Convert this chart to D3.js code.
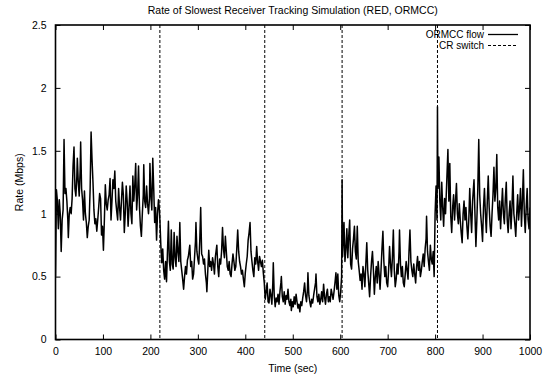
<!DOCTYPE html>
<html><head><meta charset="utf-8">
<script src="https://cdn.jsdelivr.net/npm/d3@7"></script>
<style>
body{margin:0;background:#fff;}
text{font-family:"Liberation Sans",Arial,Helvetica,sans-serif;fill:#000;}
</style></head>
<body><svg id="c" width="545" height="377"></svg>
<script>
const titleText = "Rate of Slowest Receiver Tracking Simulation (RED, ORMCC)";
const xLabel = "Time (sec)";
const yLabel = "Rate (Mbps)";
const xTicks = [0,100,200,300,400,500,600,700,800,900,1000];
const yTicks = [0,0.5,1,1.5,2,2.5];
const yTickLabels = ["0","0.5","1","1.5","2","2.5"];
const legendNames = ["ORMCC flow","CR switch"];
const switchTimes = [220,441,604,805];

const seg1 = [[0,0.50],[2,1.19],[4,1.10],[6,0.88],[8,1.11],[10,1.00],[12,0.70],[14,0.95],[16,1.03],[18,1.59],[20,1.16],[22,1.20],[24,1.10],[26,0.95],[27,0.81],[29,1.00],[31,1.05],[33,1.00],[35,1.12],[37,1.38],[39,1.53],[41,1.20],[43,1.14],[45,1.30],[46,1.44],[48,1.25],[50,1.14],[52,1.35],[53,1.57],[55,1.20],[57,1.11],[59,0.95],[61,1.18],[63,1.00],[65,0.93],[67,0.81],[69,0.90],[71,0.95],[73,1.20],[75,1.65],[77,1.43],[79,1.25],[81,1.03],[83,0.92],[85,0.96],[87,0.86],[89,0.95],[91,1.05],[93,1.16],[95,1.12],[97,0.83],[99,0.90],[101,0.71],[103,0.95],[105,1.23],[107,1.08],[109,1.03],[111,1.11],[113,1.15],[115,1.28],[117,0.95],[119,1.10],[121,1.27],[123,1.20],[125,1.34],[127,1.10],[129,1.02],[131,0.95],[133,1.20],[135,1.05],[137,0.95],[139,1.10],[141,1.25],[143,1.15],[145,0.85],[147,1.00],[149,1.22],[151,1.10],[153,0.90],[155,1.05],[157,1.22],[159,1.00],[161,0.92],[163,1.30],[165,1.10],[167,1.22],[169,1.40],[171,1.03],[173,1.15],[175,1.38],[177,1.05],[179,0.90],[181,0.82],[183,1.00],[185,1.15],[186,1.39],[188,1.10],[190,1.05],[192,1.22],[194,1.08],[196,1.00],[198,1.12],[199,1.40],[201,1.15],[203,1.03],[205,1.44],[207,1.20],[209,0.93],[211,1.05],[213,0.79],[215,1.00],[217,1.11],[219,1.03],[220,0.95]];
const seg2 = [[222,0.75],[224,0.61],[226,0.72],[228,0.55],[230,0.48],[232,0.62],[234,0.46],[236,0.70],[238,0.94],[240,0.62],[242,0.55],[244,0.87],[246,0.60],[248,0.56],[250,0.85],[252,0.65],[254,0.58],[256,0.82],[258,0.70],[260,0.62],[262,0.93],[264,0.62],[266,0.55],[268,0.48],[270,0.40],[272,0.50],[274,0.58],[276,0.52],[278,0.63],[280,0.66],[283,0.75],[285,0.58],[287,0.62],[289,0.48],[291,0.52],[293,0.65],[295,0.78],[296,0.93],[298,0.70],[300,0.64],[302,0.60],[304,0.78],[306,1.05],[308,0.68],[310,0.66],[312,0.60],[314,0.64],[316,0.52],[318,0.45],[319,0.38],[321,0.55],[323,0.71],[325,0.58],[327,0.62],[329,0.55],[331,0.65],[333,0.60],[335,0.52],[337,0.66],[340,0.75],[342,0.58],[344,0.50],[346,0.64],[348,0.60],[350,0.70],[352,0.89],[354,0.72],[356,0.65],[358,0.82],[360,0.70],[362,0.58],[364,0.55],[366,0.62],[368,0.52],[370,0.50],[372,0.60],[374,0.68],[376,0.62],[378,0.55],[380,0.58],[382,0.72],[384,0.87],[386,0.70],[388,0.62],[390,0.58],[392,0.52],[394,0.55],[396,0.48],[398,0.42],[400,0.53],[402,0.60],[404,0.66],[406,0.79],[408,0.85],[410,0.93],[412,0.70],[414,0.62],[416,0.55],[418,0.50],[420,0.65],[422,0.60],[424,0.74],[426,0.62],[428,0.55],[430,0.66],[432,0.62],[434,0.58],[436,0.63],[438,0.53],[440,0.45]];
const seg3 = [[442,0.32],[444,0.38],[446,0.45],[448,0.30],[450,0.29],[452,0.40],[454,0.35],[456,0.28],[458,0.45],[459,0.61],[461,0.35],[463,0.26],[465,0.33],[467,0.30],[469,0.36],[471,0.28],[473,0.38],[475,0.45],[476,0.50],[478,0.34],[480,0.30],[482,0.38],[484,0.28],[486,0.35],[488,0.32],[490,0.40],[492,0.30],[494,0.27],[496,0.32],[497,0.23],[499,0.30],[501,0.26],[503,0.34],[505,0.28],[507,0.36],[509,0.30],[511,0.25],[513,0.28],[515,0.22],[517,0.30],[519,0.27],[521,0.33],[523,0.38],[525,0.45],[527,0.35],[529,0.30],[531,0.40],[532,0.53],[534,0.35],[536,0.30],[538,0.26],[540,0.32],[542,0.29],[544,0.35],[546,0.40],[548,0.45],[549,0.52],[551,0.34],[553,0.30],[555,0.36],[557,0.28],[559,0.32],[561,0.38],[563,0.30],[565,0.44],[567,0.34],[569,0.28],[571,0.36],[573,0.40],[575,0.30],[577,0.34],[579,0.30],[581,0.40],[583,0.36],[585,0.32],[587,0.38],[589,0.45],[591,0.53],[593,0.40],[595,0.52],[597,0.35],[599,0.30],[601,0.38],[603,0.50]];
const seg4 = [[604,1.27],[605,0.66],[606,0.75],[608,0.93],[610,0.62],[612,0.72],[614,0.88],[616,0.65],[618,0.82],[620,0.95],[622,0.60],[624,0.56],[626,0.72],[628,0.80],[630,0.90],[632,0.70],[634,0.64],[636,0.90],[638,0.62],[640,0.55],[642,0.47],[644,0.52],[646,0.40],[648,0.58],[650,0.52],[652,0.42],[654,0.60],[656,0.77],[658,0.55],[660,0.45],[662,0.34],[664,0.50],[666,0.62],[668,0.70],[670,0.55],[672,0.36],[674,0.50],[676,0.58],[678,0.45],[680,0.62],[682,0.52],[684,0.40],[686,0.55],[688,0.72],[690,0.86],[692,0.62],[694,0.50],[696,0.58],[698,0.45],[700,0.42],[702,0.55],[704,0.74],[706,0.60],[708,0.50],[710,0.65],[712,0.87],[714,0.55],[716,0.42],[718,0.48],[720,0.60],[722,0.52],[724,0.70],[725,0.87],[727,0.60],[729,0.50],[731,0.58],[733,0.45],[735,0.42],[737,0.52],[739,0.62],[741,0.55],[743,0.48],[745,0.70],[747,0.87],[749,0.62],[751,0.55],[753,0.50],[755,0.60],[757,0.52],[759,0.45],[761,0.58],[763,0.66],[765,0.55],[767,0.62],[769,0.50],[771,0.55],[773,0.62],[775,0.68],[777,0.58],[779,0.72],[781,0.80],[782,0.98],[784,0.70],[786,0.62],[788,0.55],[790,0.75],[792,0.64],[794,0.60],[796,0.70],[798,0.50],[800,1.00],[802,1.22],[804,0.95]];
const seg5 = [[805,1.85],[806,1.20],[808,1.45],[810,1.10],[812,0.95],[814,1.25],[816,1.05],[818,0.90],[820,1.12],[822,1.00],[824,1.20],[827,1.51],[829,1.10],[831,1.40],[833,0.98],[835,0.85],[837,1.05],[839,1.15],[841,0.95],[843,1.10],[845,1.24],[847,1.00],[849,0.92],[851,1.08],[853,0.95],[855,0.85],[857,0.77],[859,1.00],[861,1.10],[863,0.95],[865,1.05],[867,0.90],[869,0.80],[871,0.95],[873,1.20],[875,1.00],[877,0.85],[879,1.10],[882,1.27],[884,1.00],[886,0.74],[888,0.95],[890,1.20],[892,1.59],[894,1.15],[896,1.00],[898,0.90],[900,0.78],[902,1.05],[904,1.20],[906,1.00],[908,0.85],[910,1.10],[912,1.30],[914,1.05],[916,0.90],[918,0.82],[920,1.00],[922,1.15],[924,1.37],[926,1.10],[928,1.20],[930,1.47],[932,1.05],[934,0.95],[936,1.10],[938,0.88],[940,1.05],[942,1.20],[944,1.00],[946,0.92],[948,1.12],[950,1.25],[952,0.95],[954,0.85],[956,1.00],[958,1.10],[960,0.88],[962,1.05],[964,1.30],[966,1.00],[968,0.92],[970,0.82],[972,1.00],[974,1.15],[976,0.95],[978,1.05],[980,1.20],[982,0.90],[984,1.10],[986,1.35],[988,1.00],[990,0.85],[992,1.05],[994,1.20],[996,0.95],[998,0.88],[1000,1.05]];

const flow = seg1.concat(seg2, seg3, seg4, seg5);

const svg = d3.select("#c");
const L = 55.5, R = 530, T = 25, B = 339.5;
const x = d3.scaleLinear().domain([0,1000]).range([L,R]);
const y = d3.scaleLinear().domain([0,2.5]).range([B,T]);
const fs = 10.5;
const tickLen = 5;

// switch lines
svg.append("g").selectAll("line").data(switchTimes).join("line")
  .attr("x1", d=>x(d)).attr("x2", d=>x(d)).attr("y1", T).attr("y2", B)
  .attr("stroke","#000").attr("stroke-width",1).attr("stroke-dasharray","3,2");

// data line
const clipId = "clipP";
svg.append("clipPath").attr("id",clipId).append("rect").attr("x",L).attr("y",T).attr("width",R-L).attr("height",B-T);
svg.append("path").datum(flow)
  .attr("clip-path","url(#"+clipId+")")
  .attr("d", d3.line().x(d=>x(d[0])).y(d=>y(d[1])))
  .attr("fill","none").attr("stroke","#000").attr("stroke-width",1.5).attr("stroke-linejoin","round");

// axes (gnuplot style: inward ticks, mirrored)
const gB = svg.append("g").attr("transform",`translate(0,${B})`)
  .call(d3.axisBottom(x).tickValues(xTicks).tickSizeInner(-tickLen).tickSizeOuter(0).tickPadding(8).tickFormat(d3.format("d")));
const gT = svg.append("g").attr("transform",`translate(0,${T})`)
  .call(d3.axisTop(x).tickValues(xTicks).tickSizeInner(-tickLen).tickSizeOuter(0).tickFormat(""));
const gL = svg.append("g").attr("transform",`translate(${L},0)`)
  .call(d3.axisLeft(y).tickValues(yTicks).tickSizeInner(-tickLen).tickSizeOuter(0).tickPadding(9).tickFormat((d,i)=>yTickLabels[i]));
const gR = svg.append("g").attr("transform",`translate(${R},0)`)
  .call(d3.axisRight(y).tickValues(yTicks).tickSizeInner(-tickLen).tickSizeOuter(0).tickFormat(""));
[gB,gT,gL,gR].forEach(g=>{
  g.select(".domain").remove();
  g.selectAll(".tick line").attr("stroke","#000").attr("stroke-width",1);
  g.selectAll("text").attr("font-size",fs).attr("fill","#000").attr("font-family","Liberation Sans, Arial, sans-serif");
});
gB.selectAll(".tick text").attr("dy","0.71em");

// frame
svg.append("rect").attr("x",L).attr("y",T).attr("width",R-L).attr("height",B-T)
  .attr("fill","none").attr("stroke","#000").attr("stroke-width",1.6);

// title & labels
svg.append("text").attr("x",(L+R)/2).attr("y",14).attr("text-anchor","middle").attr("font-size",fs).text(titleText);
svg.append("text").attr("x",(L+R)/2).attr("y",372).attr("text-anchor","middle").attr("font-size",fs).text(xLabel);
svg.append("text").attr("transform",`translate(23,${(T+B)/2}) rotate(-90)`).attr("text-anchor","middle").attr("font-size",fs).text(yLabel);

// legend
const lg = svg.append("g");
legendNames.forEach((name,i)=>{
  const ly = 34.5 + i*11;
  lg.append("text").attr("x",484).attr("y",ly).attr("dy","0.35em").attr("text-anchor","end").attr("font-size",10).text(name);
  lg.append("line").attr("x1",488).attr("x2",518).attr("y1",ly).attr("y2",ly)
    .attr("stroke","#000").attr("stroke-width", i===0?1.3:1).attr("stroke-dasharray", i===0?null:"3,2");
});
</script></body></html>
